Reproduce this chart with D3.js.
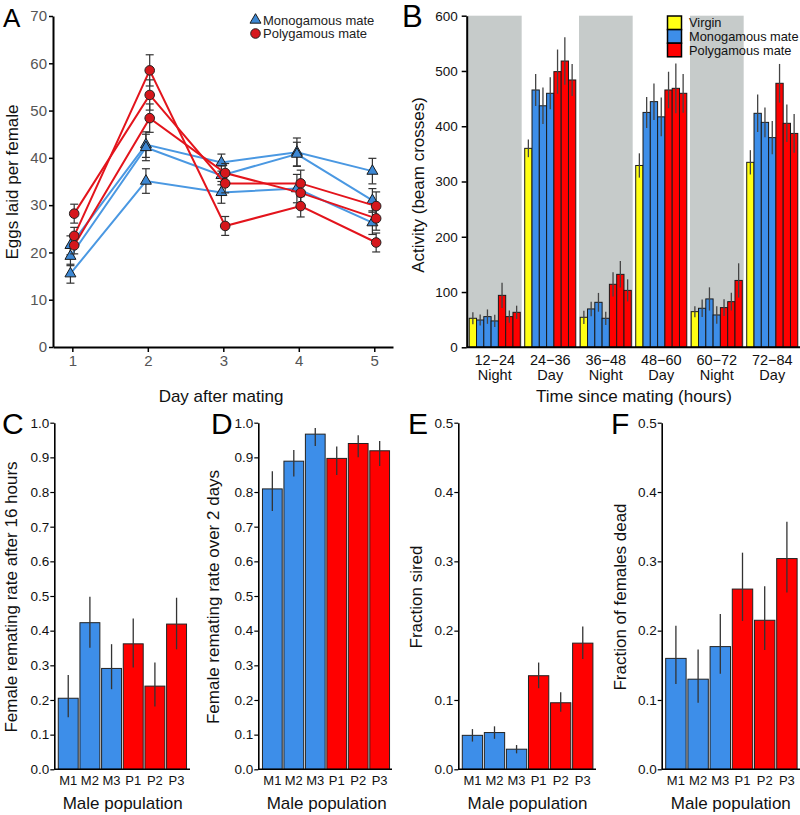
<!DOCTYPE html>
<html><head><meta charset="utf-8">
<script src="https://cdn.jsdelivr.net/npm/d3@7"></script>
<style>body{margin:0;background:#fff}svg{display:block}text{font-family:"Liberation Sans",Arial,Helvetica,sans-serif}</style>
</head><body><svg id="c" width="800" height="815"></svg>
<script>
// ---------- Panel A data ----------
const daysA = [1, 2, 3, 4, 5];
const monoEggs = [[21.5, 42.8, 39.0, 41.2, 37.2], [19.2, 42.2, 36.3, 40.8, 31.0], [15.5, 35.1, 32.7, 33.5, 26.3]];
const monoEggsErr = [[2.0, 2.7, 1.8, 3.0, 2.7], [2.0, 2.8, 2.0, 2.5, 2.5], [2.0, 2.6, 2.3, 3.0, 2.5]];
const polyEggs = [[23.5, 58.5, 25.6, 29.8, 22.1], [28.2, 53.3, 34.6, 34.6, 29.8], [21.5, 48.4, 36.8, 32.6, 27.2]];
const polyEggsErr = [[1.8, 3.3, 2.0, 2.3, 2.0], [2.0, 3.2, 2.0, 2.8, 3.0], [1.8, 3.0, 2.0, 2.5, 2.5]];
const ticksA = [0, 10, 20, 30, 40, 50, 60, 70];

// ---------- Panel B data ----------
const periods = ["12\u221224", "24\u221236", "36\u221248", "48\u221260", "60\u221272", "72\u221284"];
const phases = ["Night", "Day", "Night", "Day", "Night", "Day"];
const virginAct = [52.5, 360, 54.3, 329, 64.5, 334.7];
const virginActErr = [11, 16, 12, 22, 10, 22];
const monoAct = [[49.4, 55.5, 47.7], [465.6, 437, 459.6], [69.4, 81.4, 52.5], [425, 444.5, 417], [70.6, 87.5, 58.5], [423.4, 407, 379.4]];
const monoActErr = [[10, 13, 11], [29, 33, 29], [13, 17, 12], [28, 33, 35], [16, 21, 16], [34, 27, 30]];
const polyAct = [[94, 55.5, 63.3], [498.8, 518, 483.7], [114, 132, 103], [465.6, 468.6, 459.6], [71.8, 82.6, 121], [477.7, 405.3, 387]];
const polyActErr = [[23, 11, 12], [40, 43, 29], [22, 24, 20], [33, 45, 35], [15, 16, 31], [35, 34, 35]];
const ticksB = [0, 100, 200, 300, 400, 500, 600];
const legendB = ["Virgin", "Monogamous mate", "Polygamous mate"];

// ---------- Panels C-F data ----------
const malePops = ["M1", "M2", "M3", "P1", "P2", "P3"];
const remate16 = [0.205, 0.423, 0.291, 0.362, 0.240, 0.419];
const remate16Lo = [0.150, 0.351, 0.231, 0.294, 0.181, 0.346];
const remate16Hi = [0.272, 0.498, 0.361, 0.435, 0.308, 0.495];
const remate2d = [0.809, 0.889, 0.967, 0.897, 0.940, 0.919];
const remate2dLo = [0.745, 0.845, 0.933, 0.849, 0.900, 0.875];
const remate2dHi = [0.860, 0.921, 0.985, 0.931, 0.964, 0.947];
const sired = [0.049, 0.053, 0.029, 0.135, 0.096, 0.182];
const siredLo = [0.040, 0.044, 0.023, 0.117, 0.083, 0.159];
const siredHi = [0.058, 0.062, 0.035, 0.154, 0.111, 0.206];
const dead = [0.160, 0.130, 0.177, 0.260, 0.215, 0.304];
const deadLo = [0.123, 0.096, 0.138, 0.214, 0.172, 0.255];
const deadHi = [0.207, 0.173, 0.224, 0.3125, 0.264, 0.357];
const ticks10 = [0, 0.1, 0.2, 0.3, 0.4, 0.5, 0.6, 0.7, 0.8, 0.9, 1.0];
const ticks05 = [0, 0.1, 0.2, 0.3, 0.4, 0.5];

// ---------- colours ----------
const C_YEL = "#ffff14", C_BLUE = "#3d8ee9", C_RED = "#ff0000";
const C_LBLUE = "#4a98e2", C_LRED = "#e3141c";
const C_TRI = "#3d88d4", C_CIR = "#d6171c";

const svg = d3.select("#c");

function styleAxis(g, sw, fs, col) {
  g.select(".domain").attr("stroke", "#000").attr("stroke-width", sw);
  g.selectAll(".tick line").attr("stroke", "#000").attr("stroke-width", sw * 0.75);
  g.selectAll(".tick text").attr("font-size", fs).attr("fill", col)
    .attr("font-family", '"Liberation Sans", Arial, sans-serif');
}
function letter(t, x, y, fs) {
  svg.append("text").attr("x", x).attr("y", y).attr("font-size", fs).attr("fill", "#000").text(t);
}
function vlabel(t, x, y, fs) {
  svg.append("text").attr("transform", `translate(${x},${y}) rotate(-90)`).attr("text-anchor", "middle")
    .attr("dy", "0.35em").attr("font-size", fs).attr("fill", "#111").text(t);
}
function hlabel(t, x, y, fs) {
  svg.append("text").attr("x", x).attr("y", y).attr("text-anchor", "middle")
    .attr("dy", "0.35em").attr("font-size", fs).attr("fill", "#111").text(t);
}

// =============== Panel A ===============
{
  const xA = d3.scaleLinear().domain([0.744, 5.248]).range([53, 393]);
  const yA = d3.scaleLinear().domain([0, 70]).range([347, 16]);
  const gx = svg.append("g").attr("transform", "translate(0,347)")
    .call(d3.axisBottom(xA).tickValues(daysA).tickFormat(d3.format("d")).tickSize(5).tickSizeOuter(0).tickPadding(3));
  styleAxis(gx, 2, 15, "#555");
  const gy = svg.append("g").attr("transform", "translate(53,0)")
    .call(d3.axisLeft(yA).tickValues(ticksA).tickFormat(d3.format("d")).tickSize(4).tickSizeOuter(0).tickPadding(2));
  styleAxis(gy, 2, 15, "#555");

  const g = svg.append("g");
  function drawSeries(lines, errs, off, lineCol, kind) {
    const line = d3.line().x((d, i) => xA(daysA[i] + off)).y(d => yA(d));
    lines.forEach(vals => {
      g.append("path").attr("d", line(vals)).attr("fill", "none").attr("stroke", lineCol).attr("stroke-width", 2);
    });
    lines.forEach((vals, k) => {
      vals.forEach((v, i) => {
        const cx = xA(daysA[i] + off), e = errs[k][i];
        g.append("line").attr("x1", cx).attr("x2", cx).attr("y1", yA(v - e)).attr("y2", yA(v + e)).attr("stroke", "#333").attr("stroke-width", 1.2);
        [v - e, v + e].forEach(w => g.append("line").attr("x1", cx - 4).attr("x2", cx + 4).attr("y1", yA(w)).attr("y2", yA(w)).attr("stroke", "#333").attr("stroke-width", 1.2));
      });
    });
    lines.forEach(vals => {
      vals.forEach((v, i) => {
        const cx = xA(daysA[i] + off), cy = yA(v);
        if (kind === "tri") {
          g.append("path").attr("d", d3.symbol(d3.symbolTriangle, 52)()).attr("transform", `translate(${cx},${cy})`)
            .attr("fill", C_TRI).attr("stroke", "#1a1a1a").attr("stroke-width", 1);
        } else {
          g.append("circle").attr("cx", cx).attr("cy", cy).attr("r", 4.8).attr("fill", C_CIR).attr("stroke", "#222").attr("stroke-width", 1);
        }
      });
    });
  }
  drawSeries(monoEggs, monoEggsErr, -0.025, C_LBLUE, "tri");
  drawSeries(polyEggs, polyEggsErr, 0.025, C_LRED, "cir");

  // legend
  svg.append("path").attr("d", d3.symbol(d3.symbolTriangle, 52)()).attr("transform", "translate(255.5,20)")
    .attr("fill", C_TRI).attr("stroke", "#1a1a1a").attr("stroke-width", 1);
  svg.append("circle").attr("cx", 255.5).attr("cy", 33.5).attr("r", 4.8).attr("fill", C_CIR).attr("stroke", "#222");
  svg.append("text").attr("x", 263).attr("y", 20).attr("dy", "0.35em").attr("font-size", 13).attr("fill", "#222").text("Monogamous mate");
  svg.append("text").attr("x", 263).attr("y", 33.5).attr("dy", "0.35em").attr("font-size", 13).attr("fill", "#222").text("Polygamous mate");

  vlabel("Eggs laid per female", 12, 182, 17);
  hlabel("Day after mating", 221, 396, 17);
  letter("A", 3, 27, 26);
}

// =============== Panel B ===============
{
  const xB = d3.scaleBand().domain(periods).range([467, 800]).paddingInner(0.08).paddingOuter(0.04);
  const bw = xB.bandwidth();
  const xBi = d3.scaleBand().domain(d3.range(7)).range([0, bw]);
  const yB = d3.scaleLinear().domain([0, 600]).range([347.3, 15.7]);

  // night shading
  periods.forEach((p, i) => {
    if (phases[i] === "Night") {
      svg.append("rect").attr("x", xB(p) - 1.2).attr("width", bw + 2.6)
        .attr("y", yB(600)).attr("height", yB(0) - yB(600)).attr("fill", "#c6cbca");
    }
  });

  const g = svg.append("g");
  periods.forEach((p, i) => {
    const vals = [virginAct[i], ...monoAct[i], ...polyAct[i]];
    const errs = [virginActErr[i], ...monoActErr[i], ...polyActErr[i]];
    const cols = [C_YEL, C_BLUE, C_BLUE, C_BLUE, C_RED, C_RED, C_RED];
    vals.forEach((v, j) => {
      const x = xB(p) + xBi(j);
      g.append("rect").attr("x", x).attr("width", xBi.bandwidth()).attr("y", yB(v)).attr("height", yB(0) - yB(v))
        .attr("fill", cols[j]).attr("stroke", "#1a1a1a").attr("stroke-width", 1);
    });
    vals.forEach((v, j) => {
      const cx = xB(p) + xBi(j) + xBi.bandwidth() / 2;
      g.append("line").attr("x1", cx).attr("x2", cx).attr("y1", yB(v - errs[j])).attr("y2", yB(v + errs[j]))
        .attr("stroke", "#444").attr("stroke-width", 1.3);
    });
    const cx = xB(p) + bw / 2;
    svg.append("text").attr("x", cx).attr("y", 365).attr("text-anchor", "middle").attr("font-size", 14.5).attr("fill", "#111").text(p);
    svg.append("text").attr("x", cx).attr("y", 379.5).attr("text-anchor", "middle").attr("font-size", 14.5).attr("fill", "#111").text(phases[i]);
  });

  const gy = svg.append("g").attr("transform", "translate(466.7,0)")
    .call(d3.axisLeft(yB).tickValues(ticksB).tickSize(5).tickSizeOuter(0).tickPadding(4));
  styleAxis(gy, 2, 13.5, "#111");
  svg.append("line").attr("x1", 466.7).attr("x2", 800).attr("y1", 347.3).attr("y2", 347.3).attr("stroke", "#000").attr("stroke-width", 2);

  // legend
  const legCols = [C_YEL, C_BLUE, C_RED];
  legendB.forEach((t, i) => {
    svg.append("rect").attr("x", 667.5).attr("y", 16 + i * 13.6).attr("width", 14).attr("height", 13.6)
      .attr("fill", legCols[i]).attr("stroke", "#000").attr("stroke-width", 1.5);
    svg.append("text").attr("x", 689).attr("y", 22.5 + i * 14).attr("dy", "0.35em").attr("font-size", 12.8).attr("fill", "#111").text(t);
  });

  vlabel("Activity (beam crosses)", 418, 185, 17);
  hlabel("Time since mating (hours)", 634, 396, 17);
  letter("B", 402, 26.5, 31);
}

// =============== Panels C-F ===============
function barPanel(o) {
  const x = d3.scaleBand().domain(malePops).range(o.xr).paddingInner(0.08).paddingOuter(0.04);
  const y = d3.scaleLinear().domain([0, o.ymax]).range([769.3, 422.7]);
  const cols = [C_BLUE, C_BLUE, C_BLUE, C_RED, C_RED, C_RED];
  const g = svg.append("g");
  o.vals.forEach((v, i) => {
    g.append("rect").attr("x", x(malePops[i])).attr("width", x.bandwidth()).attr("y", y(v)).attr("height", y(0) - y(v))
      .attr("fill", cols[i]).attr("stroke", "#222").attr("stroke-width", 1);
  });
  o.vals.forEach((v, i) => {
    const cx = x(malePops[i]) + x.bandwidth() / 2;
    g.append("line").attr("x1", cx).attr("x2", cx).attr("y1", y(o.lo[i])).attr("y2", y(o.hi[i]))
      .attr("stroke", "#333").attr("stroke-width", 1.3);
    svg.append("text").attr("x", cx).attr("y", 785).attr("text-anchor", "middle").attr("font-size", 13).attr("fill", "#111").text(malePops[i]);
  });
  const gy = svg.append("g").attr("transform", `translate(${o.ax},0)`)
    .call(d3.axisLeft(y).tickValues(o.ticks).tickFormat(d3.format(".1f")).tickSize(4).tickSizeOuter(0).tickPadding(1));
  styleAxis(gy, 1.6, 13.5, "#111");
  svg.append("line").attr("x1", o.ax).attr("x2", o.axEnd).attr("y1", 769.3).attr("y2", 769.3).attr("stroke", "#000").attr("stroke-width", 1.6);
  vlabel(o.ylab, o.ylx, 597, 17);
  hlabel("Male population", o.xlx, 803, 17);
  letter(o.letter, o.lx, 434, 30);
}
barPanel({ xr: [57.4, 187.4], ax: 54.3, axEnd: 190, ymax: 1.0, ticks: ticks10, vals: remate16, lo: remate16Lo, hi: remate16Hi,
  ylab: "Female remating rate after 16 hours", ylx: 11, xlx: 122.7, letter: "C", lx: 2 });
barPanel({ xr: [261.6, 390.4], ax: 258.3, axEnd: 392, ymax: 1.0, ticks: ticks10, vals: remate2d, lo: remate2dLo, hi: remate2dHi,
  ylab: "Female remating rate over 2 days", ylx: 213.5, xlx: 326.7, letter: "D", lx: 211 });
barPanel({ xr: [461.4, 593.8], ax: 458.3, axEnd: 596, ymax: 0.5, ticks: ticks05, vals: sired, lo: siredLo, hi: siredHi,
  ylab: "Fraction sired", ylx: 416.5, xlx: 527.5, letter: "E", lx: 408 });
barPanel({ xr: [664.8, 798], ax: 661.7, axEnd: 800, ymax: 0.5, ticks: ticks05, vals: dead, lo: deadLo, hi: deadHi,
  ylab: "Fraction of females dead", ylx: 620, xlx: 730.8, letter: "F", lx: 611 });
</script></body></html>
